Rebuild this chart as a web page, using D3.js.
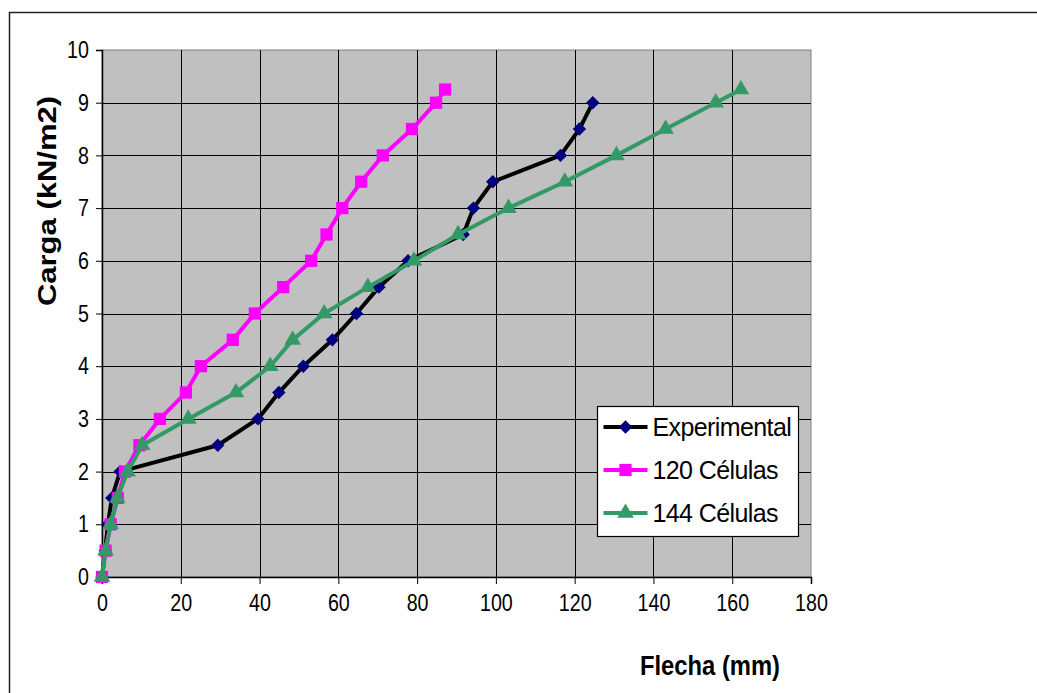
<!DOCTYPE html>
<html>
<head>
<meta charset="utf-8">
<script src="https://cdn.jsdelivr.net/npm/d3@7"></script>
<style>
  body { margin: 0; background: #fff; }
  svg { display: block; }
</style>
</head>
<body>
<svg width="1037" height="693"></svg>
<script>
// cargas (kN/m2)
const cargaExp = [0, 0.5, 1, 1.5, 2, 2.5, 3, 3.5, 4, 4.5, 5, 5.5, 6, 6.5, 7, 7.5, 8, 8.5, 9];
const cargaMod = [0, 0.5, 1, 1.5, 2, 2.5, 3, 3.5, 4, 4.5, 5, 5.5, 6, 6.5, 7, 7.5, 8, 8.5, 9, 9.25];

// flechas (mm)
const flechaExp = [0, 0.8, 1.5, 2.5, 4.6, 29.4, 39.6, 44.9, 51.1, 58.5, 64.6, 70.3, 77.7, 91.7, 94.3, 99.2, 116.4, 121.2, 124.6];
const flecha120 = [0, 0.9, 2.2, 4.0, 5.8, 9.5, 14.7, 21.3, 25.1, 33.2, 38.8, 46.0, 53.1, 57.0, 61.0, 65.8, 71.3, 78.7, 84.8, 87.1];
const flecha144 = [0, 0.9, 2.2, 3.9, 6.5, 10.2, 21.9, 34.0, 42.7, 48.4, 56.4, 67.5, 79.2, 90.4, 103.2, 117.5, 130.6, 143.1, 155.8, 162.2];

const seriesNames = ['Experimental', '120 Células', '144 Células'];
const xTicks = [0, 20, 40, 60, 80, 100, 120, 140, 160, 180];
const yTicks = [0, 1, 2, 3, 4, 5, 6, 7, 8, 9, 10];

// rombo de Excel: cuadrado girado 45 grados
const rombo = {
  draw(ctx, size) {
    const r = Math.sqrt(size / 2);
    ctx.moveTo(0, -r); ctx.lineTo(r, 0); ctx.lineTo(0, r); ctx.lineTo(-r, 0); ctx.closePath();
  }
};

const series = [
  { name: seriesNames[0], xs: flechaExp, ys: cargaExp, line: '#000000', mark: '#000080', shape: rombo, size: 90 },
  { name: seriesNames[1], xs: flecha120, ys: cargaMod, line: '#FF00FF', mark: '#FF00FF', shape: d3.symbolSquare, size: 150 },
  { name: seriesNames[2], xs: flecha144, ys: cargaMod, line: '#339966', mark: '#339966', shape: d3.symbolTriangle, size: 120 }
];

const svg = d3.select('svg');
const margens = { left: 102, top: 50, right: 226, bottom: 116 };
const width = +svg.attr('width');
const height = +svg.attr('height');
const innerWidth = width - margens.left - margens.right;
const innerHeight = height - margens.top - margens.bottom;

// borde exterior (solo arriba e izquierda quedan dentro de la imagen)
svg.append('path')
  .attr('d', `M9.5,${height} V12.5 H${width}`)
  .attr('fill', 'none')
  .attr('stroke', '#222')
  .attr('stroke-width', 1.5);

const x = d3.scaleLinear().domain([0, 180]).range([0, innerWidth]);
const y = d3.scaleLinear().domain([0, 10]).range([innerHeight, 0]);

const g = svg.append('g').attr('transform', `translate(${margens.left},${margens.top})`);

// area del grafico
g.append('rect')
  .attr('width', innerWidth).attr('height', innerHeight)
  .attr('fill', '#C0C0C0')
  .attr('stroke', '#808080');

// rejilla
g.append('g').selectAll('line')
  .data(yTicks.slice(1, -1))
  .join('line')
  .attr('x1', 0).attr('x2', innerWidth)
  .attr('y1', d => Math.round(y(d)) + 0.5).attr('y2', d => Math.round(y(d)) + 0.5)
  .attr('stroke', '#000').attr('stroke-width', 1);

g.append('g').selectAll('line')
  .data(xTicks.slice(1, -1))
  .join('line')
  .attr('y1', 0).attr('y2', innerHeight)
  .attr('x1', d => Math.round(x(d)) + 0.5).attr('x2', d => Math.round(x(d)) + 0.5)
  .attr('stroke', '#000').attr('stroke-width', 1);

// ejes
const ejeX = g.append('g')
  .attr('transform', `translate(0,${innerHeight})`)
  .call(d3.axisBottom(x).tickValues(xTicks).tickSize(7).tickPadding(10).tickFormat(d3.format('d')));
const ejeY = g.append('g')
  .call(d3.axisLeft(y).tickValues(yTicks).tickSize(6).tickPadding(10).tickFormat(d3.format('d')));

[ejeX, ejeY].forEach(e => {
  e.select('.domain').attr('stroke', '#000').attr('stroke-width', 1.5);
  e.selectAll('.tick line').attr('stroke', '#000');
  e.selectAll('text')
    .attr('fill', '#000')
    .attr('transform', 'scale(0.82,1)')
    .style('font-family', '"Liberation Sans", Arial, sans-serif')
    .style('font-size', '24px');
});

// series
const linea = d3.line().x(d => x(d[0])).y(d => y(d[1]));

series.forEach(s => {
  const pts = s.xs.map((v, i) => [v, s.ys[i]]);
  g.append('path')
    .datum(pts)
    .attr('d', linea)
    .attr('fill', 'none')
    .attr('stroke', s.line)
    .attr('stroke-width', 4)
    .attr('stroke-linejoin', 'round');
  g.append('g').selectAll('path')
    .data(pts)
    .join('path')
    .attr('transform', d => `translate(${x(d[0])},${y(d[1])})`)
    .attr('d', d3.symbol().type(s.shape).size(s.size))
    .attr('fill', s.mark);
});

// leyenda
const leyenda = svg.append('g').attr('transform', 'translate(597.5,406.5)');
leyenda.append('rect')
  .attr('width', 201).attr('height', 130)
  .attr('fill', '#fff').attr('stroke', '#000').attr('stroke-width', 1.2);

const filas = leyenda.selectAll('g.item')
  .data(series)
  .join('g')
  .attr('class', 'item')
  .attr('transform', (d, i) => `translate(0,${20.5 + i * 43})`);

filas.append('line')
  .attr('x1', 6).attr('x2', 50)
  .attr('stroke', d => d.line).attr('stroke-width', 4);
filas.append('path')
  .attr('transform', 'translate(28,0)')
  .attr('d', d => d3.symbol().type(d.shape).size(d.size)())
  .attr('fill', d => d.mark);
filas.append('text')
  .attr('x', 55).attr('y', 0)
  .attr('dy', '0.36em')
  .style('font-family', '"Liberation Sans", Arial, sans-serif')
  .style('font-size', '25px')
  .style('letter-spacing', '-0.6px')
  .text(d => d.name);

// titulos de ejes
svg.append('text')
  .attr('transform', 'translate(47,201) rotate(-90) scale(1.24,1)')
  .attr('text-anchor', 'middle')
  .attr('dy', '0.36em')
  .style('font-family', '"Liberation Sans", Arial, sans-serif')
  .style('font-weight', 'bold')
  .style('font-size', '25px')
  .text('Carga (kN/m2)');

svg.append('text')
  .attr('transform', 'translate(710,675) scale(0.85,1)')
  .attr('text-anchor', 'middle')
  .style('font-family', '"Liberation Sans", Arial, sans-serif')
  .style('font-weight', 'bold')
  .style('font-size', '28px')
  .text('Flecha (mm)');
</script>
</body>
</html>
